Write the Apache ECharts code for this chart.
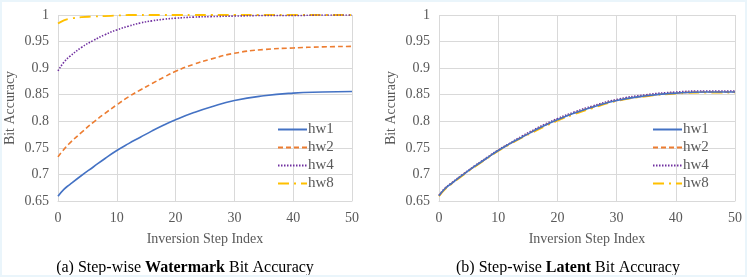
<!DOCTYPE html>
<html><head><meta charset="utf-8">
<script src="https://cdn.jsdelivr.net/npm/echarts@6/dist/echarts.min.js"></script>
<style>
html,body{margin:0;padding:0;background:#eaf5fb;}
#c{position:absolute;left:2px;top:2px;width:743px;height:273px;background:#fff;}
</style></head>
<body><div id="c"></div>
<script>
const steps = [0, 1, 2, 4, 6, 8, 10, 12, 14, 16, 18, 20, 23, 26, 30, 35, 40, 45, 50];
// (a) watermark bit accuracy
const wm_hw1 = [0.659, 0.672, 0.681, 0.698, 0.714, 0.730, 0.745, 0.758, 0.770, 0.782, 0.793, 0.803, 0.816, 0.827, 0.839, 0.848, 0.853, 0.855, 0.856];
const wm_hw2 = [0.733, 0.747, 0.759, 0.779, 0.798, 0.815, 0.831, 0.846, 0.859, 0.871, 0.883, 0.894, 0.907, 0.917, 0.928, 0.935, 0.938, 0.940, 0.941];
const wm_hw4 = [0.895, 0.911, 0.922, 0.939, 0.952, 0.963, 0.972, 0.979, 0.985, 0.989, 0.992, 0.994, 0.996, 0.997, 0.998, 0.999, 0.999, 1.000, 1.000];
const wm_hw8 = [0.984, 0.990, 0.993, 0.996, 0.997, 0.998, 0.999, 1.000, 1.000, 1.000, 1.000, 1.000, 1.000, 1.000, 1.000, 1.000, 1.000, 1.000, 1.000];
// (b) latent bit accuracy
const lt_hw1 = [0.660, 0.673, 0.682, 0.699, 0.715, 0.730, 0.745, 0.758, 0.770, 0.782, 0.793, 0.803, 0.816, 0.827, 0.839, 0.848, 0.853, 0.855, 0.855];
const lt_hw2 = [0.660, 0.673, 0.682, 0.699, 0.715, 0.730, 0.745, 0.758, 0.770, 0.782, 0.793, 0.803, 0.816, 0.827, 0.839, 0.848, 0.853, 0.855, 0.855];
const lt_hw4 = [0.661, 0.674, 0.683, 0.700, 0.716, 0.731, 0.746, 0.759, 0.772, 0.784, 0.795, 0.805, 0.818, 0.829, 0.841, 0.850, 0.855, 0.857, 0.857];
const lt_hw8 = [0.659, 0.672, 0.681, 0.698, 0.714, 0.729, 0.744, 0.757, 0.769, 0.780, 0.791, 0.801, 0.814, 0.825, 0.838, 0.847, 0.852, 0.854, 0.854];
const names = ['hw1', 'hw2', 'hw4', 'hw8'];
const yTicks = [0.65, 0.7, 0.75, 0.8, 0.85, 0.9, 0.95, 1];
const xTicks = [0, 10, 20, 30, 40, 50];
const captionA = ['(a) Step-wise ', 'Watermark', ' Bit Accuracy'];
const captionB = ['(b) Step-wise ', 'Latent', ' Bit Accuracy'];

const colors = ['#4472C4', '#ED7D31', '#7030A0', '#FFC000'];
const styles = [
  {type: 'solid', width: 1.6},
  {type: [5, 3], width: 1.6},
  {type: [1.5, 1.5], width: 1.6},
  {type: [11, 5, 2, 5], width: 1.8}
];
const FONT = '"Liberation Serif", "DejaVu Serif", serif';
const chart = echarts.init(document.getElementById('c'));

function pair(data) { return steps.map((s, i) => [s, data[i]]); }
const setA = [wm_hw1, wm_hw2, wm_hw4, wm_hw8];
const setB = [lt_hw1, lt_hw2, lt_hw4, lt_hw8];
const series = [];
[setA, setB].forEach((set, g) => {
  set.forEach((d, i) => {
    series.push({
      name: names[i], type: 'line', xAxisIndex: g, yAxisIndex: g,
      data: pair(d), smooth: 0.5, symbol: 'none',
      lineStyle: Object.assign({color: colors[i]}, styles[i]),
      itemStyle: {color: colors[i]}, z: 10 - i
    });
  });
});

const grids = [
  {left: 52, top: 13, width: 298, height: 186},
  {left: 437, top: 13, width: 297, height: 186}
];
function xAx(g) {
  return {
    type: 'value', gridIndex: g, min: 0, max: 50, interval: 10,
    axisLine: {show: true, lineStyle: {color: '#d9d9d9'}},
    axisTick: {show: false},
    splitLine: {show: true, lineStyle: {color: '#d9d9d9'}},
    axisLabel: {color: '#595959', fontFamily: FONT, fontSize: 14, margin: 10},
    name: 'Inversion Step Index', nameLocation: 'middle', nameGap: 31,
    nameTextStyle: {color: '#595959', fontFamily: FONT, fontSize: 14}
  };
}
function yAx(g) {
  return {
    type: 'value', gridIndex: g, min: 0.65, max: 1, interval: 0.05,
    axisLine: {show: false}, axisTick: {show: false},
    splitLine: {show: true, lineStyle: {color: '#d9d9d9'}},
    axisLabel: {color: '#595959', fontFamily: FONT, fontSize: 14, margin: 9,
      formatter: v => String(parseFloat(v.toFixed(2)))},
    name: 'Bit Accuracy', nameLocation: 'middle', nameGap: 41,
    nameTextStyle: {color: '#595959', fontFamily: FONT, fontSize: 14}
  };
}
function legend(left) {
  return {
    data: names, orient: 'vertical', left: left, top: 115,
    itemWidth: 29, itemHeight: 12, itemGap: 3,
    itemStyle: {opacity: 0},
    textStyle: {color: '#595959', fontFamily: FONT, fontSize: 15, padding: [0, 0, 0, -4]},
    selectedMode: false
  };
}
function caption(cx, parts) {
  return {
    type: 'text', x: cx, y: 266, style: {
      text: '{n|' + parts[0] + '}{b|' + parts[1] + '}{n|' + parts[2] + '}',
      align: 'center', verticalAlign: 'middle',
      rich: {n: {fontFamily: FONT, fontSize: 16, fill: '#000'},
             b: {fontFamily: FONT, fontSize: 16, fontWeight: 'bold', fill: '#000'}}}
  };
}
chart.setOption({
  animation: false,
  grid: grids,
  xAxis: [xAx(0), xAx(1)],
  yAxis: [yAx(0), yAx(1)],
  legend: [legend(270), legend(645)],
  series: series,
  graphic: [caption(183, captionA), caption(566, captionB)]
});
</script></body></html>
